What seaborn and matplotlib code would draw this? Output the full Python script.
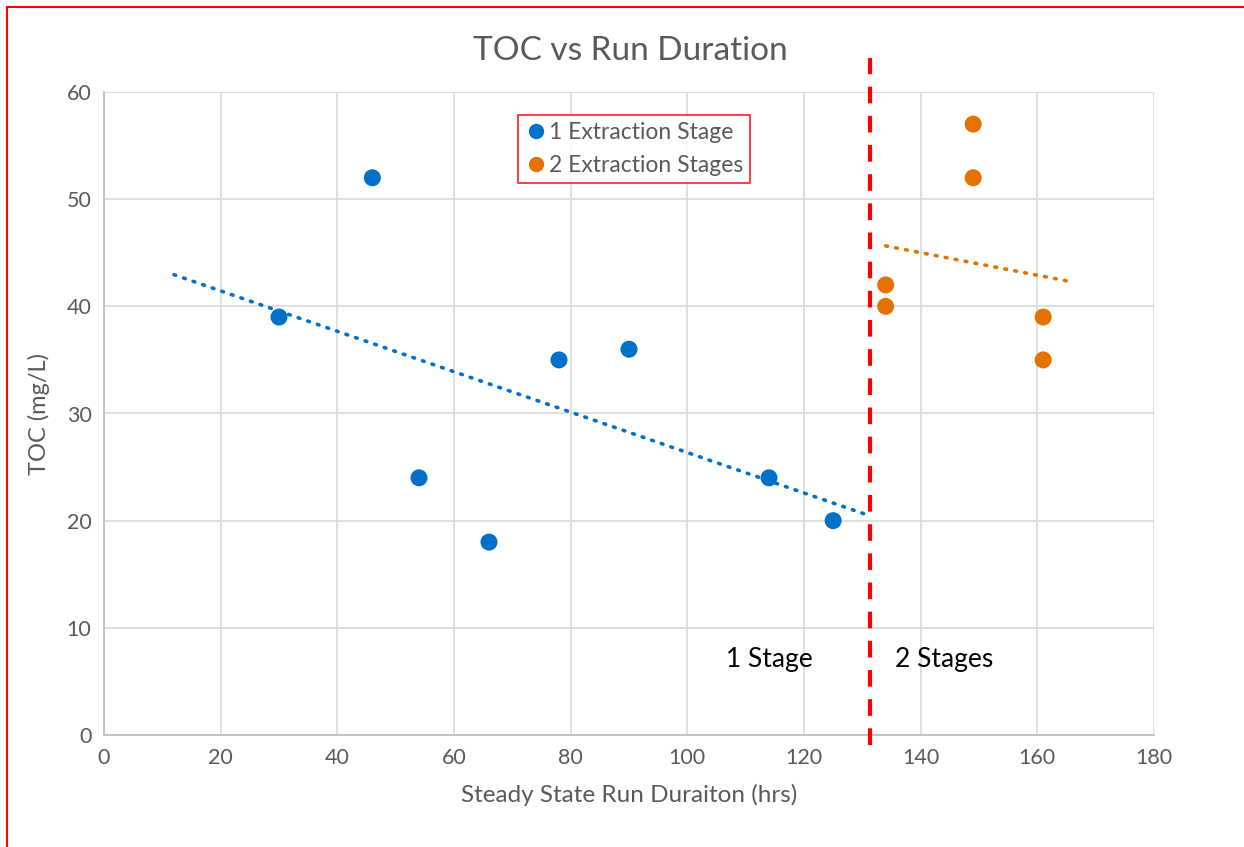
import numpy as np
import pandas as pd
import matplotlib
matplotlib.use("Agg")
import matplotlib.pyplot as plt
from matplotlib.lines import Line2D
import seaborn as sns

# ---- data ----
one_stage_hours = [30, 46, 54, 66, 78, 90, 114, 125]
one_stage_toc = [39, 52, 24, 18, 35, 36, 24, 20]
two_stage_hours = [134, 134, 149, 149, 161, 161]
two_stage_toc = [42, 40, 57, 52, 39, 35]
series_names = ["1 Extraction Stage", "2 Extraction Stages"]
x_ticks = [0, 20, 40, 60, 80, 100, 120, 140, 160, 180]
y_ticks = [0, 10, 20, 30, 40, 50, 60]
divider_x = 131.3

sns.set_theme(style="white")
plt.rcParams['font.family'] = ['Lato', 'DejaVu Sans']

BLUE = "#0070C8"
ORANGE = "#E37200"
TXT = "#595959"

df = pd.DataFrame({
    "hours": one_stage_hours + two_stage_hours,
    "toc": one_stage_toc + two_stage_toc,
    "series": [series_names[0]] * len(one_stage_hours) + [series_names[1]] * len(two_stage_hours),
})

W, H = 1244, 847
fig = plt.figure(figsize=(W / 100, H / 100), dpi=100)
ax = fig.add_axes([104 / W, 1 - 735 / H, (1154 - 104) / W, (735 - 92) / H])

# trendlines (linear fit with forecast extension)
for xs, ys, lo, hi, col in [
    (one_stage_hours, one_stage_toc, 12, 131, BLUE),
    (two_stage_hours, two_stage_toc, 134, 165.3, ORANGE),
]:
    m, b = np.polyfit(xs, ys, 1)
    tx = np.array([lo, hi])
    ax.plot(tx, m * tx + b, color=col, lw=2.6, linestyle=(0, (0.5, 2.3)),
            dash_capstyle="round", zorder=3)

sns.scatterplot(data=df, x="hours", y="toc", hue="series",
                palette=[BLUE, ORANGE], s=150, edgecolor="none", ax=ax, zorder=4)

ax.set_xlim(0, 180)
ax.set_ylim(0, 60)
ax.set_xticks(x_ticks)
ax.set_yticks(y_ticks)
ax.grid(True, color="#D9D9D9", lw=1.2)
ax.set_axisbelow(True)
for s in ["top", "right"]:
    ax.spines[s].set_visible(False)
for s in ["left", "bottom"]:
    ax.spines[s].set_color("#BFBFBF")
    ax.spines[s].set_linewidth(1.3)
ax.tick_params(axis="both", length=0, labelsize=15.5, colors=TXT, pad=9)

ax.set_xlabel("Steady State Run Duraiton (hrs)", fontsize=17.5, color=TXT, labelpad=12)
ax.set_ylabel("TOC (mg/L)", fontsize=17, color=TXT, labelpad=12)
fig.text(630 / W, 1 - 51 / H, "TOC vs Run Duration", fontsize=24, color=TXT,
         ha="center", va="center")

# divider line
ax.plot([divider_x, divider_x], [-0.95, 63.2], color="#FF0000", lw=3,
        linestyle=(0, (4, 3)), clip_on=False, zorder=5)
ax.text(769 / W, 1 - 659 / H, "1 Stage", transform=fig.transFigure,
        fontsize=19, color="black", ha="center", va="center")
ax.text(944 / W, 1 - 659 / H, "2 Stages", transform=fig.transFigure,
        fontsize=19, color="black", ha="center", va="center")

# legend
handles = [Line2D([], [], marker="o", ls="", color=c, markersize=10) for c in (BLUE, ORANGE)]
leg = ax.legend(handles, series_names, loc="center", bbox_to_anchor=(634 / W, 1 - 149 / H),
                bbox_transform=fig.transFigure, fontsize=16.5, frameon=True, fancybox=False,
                handletextpad=0.05, borderpad=0.3, labelspacing=0.5, handlelength=1.0,
                borderaxespad=0)
leg.get_frame().set_edgecolor("#FF0000")
leg.get_frame().set_linewidth(1.3)
for t in leg.get_texts():
    t.set_color(TXT)

# outer red border (cropped)
fig.add_artist(Line2D([7 / W, 7 / W], [0, 1 - 7 / H], transform=fig.transFigure, color="#FF0000", lw=1.5))
fig.add_artist(Line2D([7 / W, 1], [1 - 7 / H, 1 - 7 / H], transform=fig.transFigure, color="#FF0000", lw=1.5))

fig.savefig("out.png", dpi=100)
